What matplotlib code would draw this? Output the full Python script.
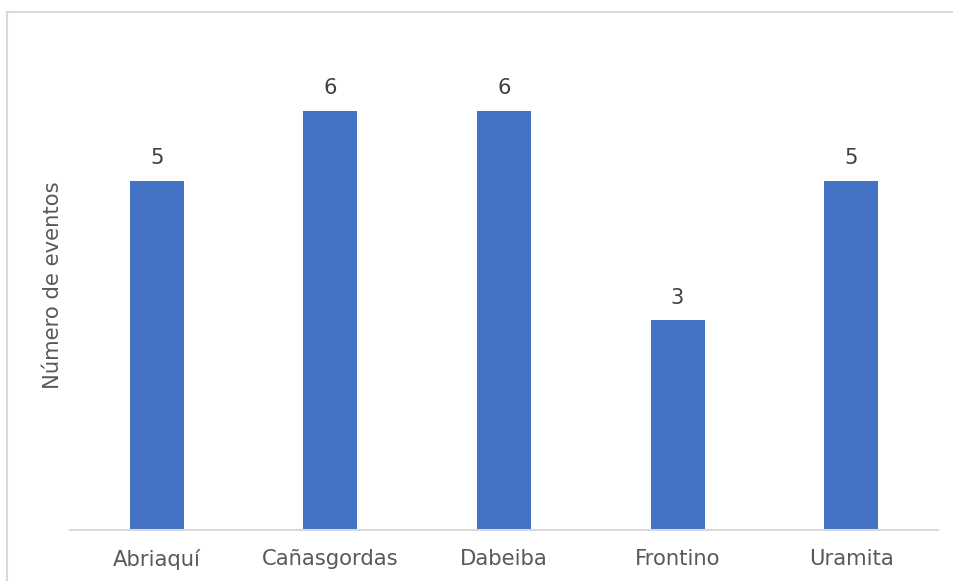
import matplotlib.pyplot as plt
from matplotlib.patches import Rectangle

municipios = ["Abriaquí", "Cañasgordas", "Dabeiba", "Frontino", "Uramita"]
eventos = [5, 6, 6, 3, 5]

BAR = "#4472C4"
TXT = "#595959"
GRID = "#d9d9d9"
FS = 15.2

plt.rcParams['font.family'] = ['DejaVu Sans']

fig = plt.figure(figsize=(9.54, 5.81), dpi=100)
W, H = 954, 581
ax = fig.add_axes([70 / W, (H - 530) / H, (938 - 70) / W, (530 - 41) / H])

x = range(len(municipios))
bars = ax.bar(x, eventos, width=0.31, color=BAR, zorder=2)
for b, v in zip(bars, eventos):
    ax.annotate(str(v), (b.get_x() + b.get_width() / 2, v),
                xytext=(0, 9), textcoords="offset points",
                ha="center", va="bottom", fontsize=FS, color="#404040")

ax.set_xlim(-0.5, len(municipios) - 0.5)
ax.set_ylim(0, 7)
ax.set_xticks(list(x))
ax.set_xticklabels(municipios, fontsize=FS, color=TXT)
ax.tick_params(axis="x", length=0, pad=14)
ax.set_yticks([])
for side in ("top", "right", "left"):
    ax.spines[side].set_visible(False)
ax.spines["bottom"].set_color(GRID)
ax.spines["bottom"].set_linewidth(1.5)
ax.set_ylabel("Número de eventos", fontsize=FS, color=TXT, labelpad=5)

# chart frame
fig.patches.append(Rectangle((7 / W, -0.1), 1.2, (H - 12) / H + 0.1,
                             transform=fig.transFigure, fill=False,
                             edgecolor=GRID, linewidth=1.5))

fig.savefig("out.png", dpi=100)
